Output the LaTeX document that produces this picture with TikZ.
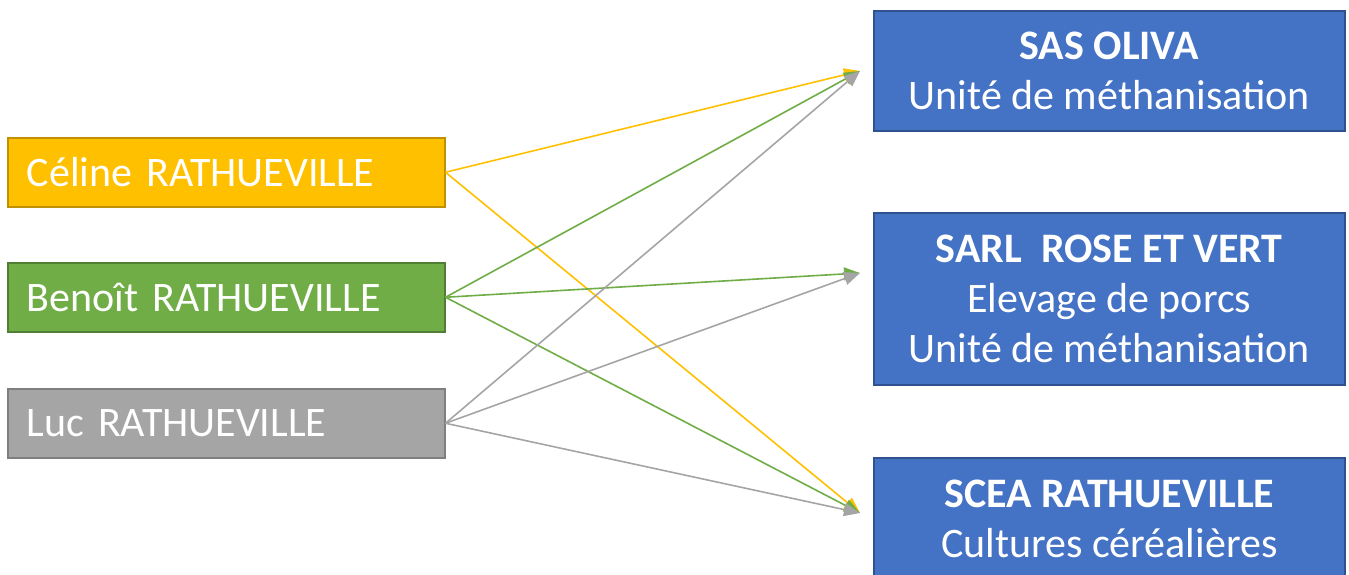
\documentclass[tikz,border=0pt]{standalone}
\usepackage{fontspec}
\setmainfont{Carlito}
\usetikzlibrary{arrows.meta}

\definecolor{cYellow}{HTML}{FFC000}
\definecolor{cYellowLine}{HTML}{BF9000}
\definecolor{cGreen}{HTML}{70AD47}
\definecolor{cGreenLine}{HTML}{507E32}
\definecolor{cGrey}{HTML}{A5A5A5}
\definecolor{cGreyLine}{HTML}{7F7F7F}
\definecolor{cBlue}{HTML}{4472C4}
\definecolor{cBlueLine}{HTML}{2F528F}

\begin{document}
\begin{tikzpicture}[x=1pt, y=-1pt,
  person/.style={draw, line width=1.5pt, anchor=north west, text=white,
    minimum width=437pt, minimum height=69pt, inner xsep=19pt,
    text width=399pt, align=left, font=\fontsize{42}{50}\selectfont},
  company/.style={draw=cBlueLine, fill=cBlue, line width=1.5pt, anchor=north west,
    text=white, minimum width=471pt, align=center,
    font=\fontsize{42}{50}\selectfont},
  link/.style={line width=1.6pt, -{Triangle[length=16pt, width=13pt]}},
]
\useasboundingbox (0,0) rectangle (1349,574);
\clip (0,0) rectangle (1349,574);

% people
\node[person, fill=cYellow, draw=cYellowLine] (celine) at (7,137) {Céline RATHUEVILLE};
\node[person, fill=cGreen, draw=cGreenLine] (benoit) at (7,262) {Benoît RATHUEVILLE};
\node[person, fill=cGrey, draw=cGreyLine] (luc) at (7,388) {Luc RATHUEVILLE};

% companies
\node[company, minimum height=120pt] (sas) at (873,10)
  {\textbf{SAS OLIVA}\\Unité de méthanisation};
\node[company, minimum height=172pt] (sarl) at (873,212)
  {\textbf{SARL\ \ ROSE ET VERT}\\Elevage de porcs\\Unité de méthanisation};
\node[company, minimum height=122pt] (scea) at (873,457)
  {\textbf{SCEA RATHUEVILLE}\\Cultures céréalières};

% arrow targets just left of the company boxes
\coordinate (sasIn) at (860,71);
\coordinate (sarlIn) at (860,273);
\coordinate (sceaIn) at (860,513);

% shareholdings
\draw[link, cYellow] (celine.east) -- (sasIn);
\draw[link, cYellow] (celine.east) -- (sceaIn);
\draw[link, cGreen] (benoit.east) -- (sasIn);
\draw[link, cGreen] (benoit.east) -- (sarlIn);
\draw[link, cGreen] (benoit.east) -- (sceaIn);
\draw[link, cGrey] (luc.east) -- (sasIn);
\draw[link, cGrey] (luc.east) -- (sarlIn);
\draw[link, cGrey] (luc.east) -- (sceaIn);
\end{tikzpicture}
\end{document}
